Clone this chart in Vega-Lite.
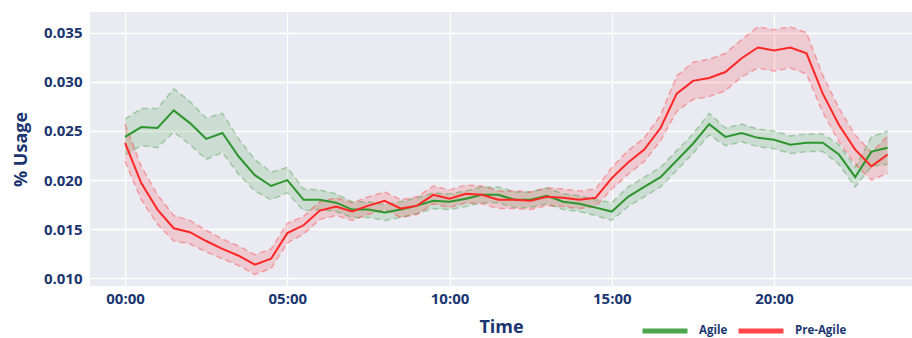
{
  "$schema": "https://vega.github.io/schema/vega-lite/v6.json",
  "width": 822,
  "height": 274,
  "autosize": {"type": "none"},
  "padding": {"left": 90, "top": 12, "right": 0, "bottom": 52},
  "background": "white",
  "config": {
    "font": "Open Sans",
    "view": {"fill": "#eaeaf2", "stroke": null},
    "axis": {"domain": false, "ticks": false, "gridColor": "white", "gridWidth": 1.3, "labelFont": "Open Sans", "labelFontWeight": "bold", "labelColor": "#1a3570", "labelFontSize": 15, "titleFont": "Open Sans", "titleColor": "#1a3570", "titleFontSize": 18, "titleFontWeight": "bold"},
    "axisX": {"labelPadding": 5, "titlePadding": 12},
    "axisY": {"labelPadding": 8, "titlePadding": 13},
    "legend": {"padding": 0}
  },
  "data": {"values": [
    {"s":"Agile","t":0,"m":0.0244,"lo":0.0226,"hi":0.0262},
    {"s":"Agile","t":0.5,"m":0.0254,"lo":0.0235,"hi":0.0273},
    {"s":"Agile","t":1,"m":0.0253,"lo":0.0233,"hi":0.0273},
    {"s":"Agile","t":1.5,"m":0.0271,"lo":0.0249,"hi":0.0293},
    {"s":"Agile","t":2,"m":0.0258,"lo":0.0236,"hi":0.0280},
    {"s":"Agile","t":2.5,"m":0.0242,"lo":0.0221,"hi":0.0263},
    {"s":"Agile","t":3,"m":0.0248,"lo":0.0228,"hi":0.0268},
    {"s":"Agile","t":3.5,"m":0.0224,"lo":0.0206,"hi":0.0242},
    {"s":"Agile","t":4,"m":0.0205,"lo":0.0189,"hi":0.0221},
    {"s":"Agile","t":4.5,"m":0.0194,"lo":0.0180,"hi":0.0208},
    {"s":"Agile","t":5,"m":0.0200,"lo":0.0187,"hi":0.0213},
    {"s":"Agile","t":5.5,"m":0.0180,"lo":0.0169,"hi":0.0191},
    {"s":"Agile","t":6,"m":0.0180,"lo":0.0170,"hi":0.0190},
    {"s":"Agile","t":6.5,"m":0.0177,"lo":0.0168,"hi":0.0186},
    {"s":"Agile","t":7,"m":0.0170,"lo":0.0162,"hi":0.0178},
    {"s":"Agile","t":7.5,"m":0.0170,"lo":0.0162,"hi":0.0178},
    {"s":"Agile","t":8,"m":0.0167,"lo":0.0159,"hi":0.0175},
    {"s":"Agile","t":8.5,"m":0.0170,"lo":0.0162,"hi":0.0178},
    {"s":"Agile","t":9,"m":0.0174,"lo":0.0166,"hi":0.0182},
    {"s":"Agile","t":9.5,"m":0.0179,"lo":0.0171,"hi":0.0187},
    {"s":"Agile","t":10,"m":0.0178,"lo":0.0170,"hi":0.0186},
    {"s":"Agile","t":10.5,"m":0.0181,"lo":0.0173,"hi":0.0189},
    {"s":"Agile","t":11,"m":0.0185,"lo":0.0177,"hi":0.0193},
    {"s":"Agile","t":11.5,"m":0.0185,"lo":0.0177,"hi":0.0193},
    {"s":"Agile","t":12,"m":0.0180,"lo":0.0172,"hi":0.0188},
    {"s":"Agile","t":12.5,"m":0.0180,"lo":0.0172,"hi":0.0188},
    {"s":"Agile","t":13,"m":0.0184,"lo":0.0176,"hi":0.0192},
    {"s":"Agile","t":13.5,"m":0.0178,"lo":0.0170,"hi":0.0186},
    {"s":"Agile","t":14,"m":0.0176,"lo":0.0168,"hi":0.0184},
    {"s":"Agile","t":14.5,"m":0.0172,"lo":0.0164,"hi":0.0180},
    {"s":"Agile","t":15,"m":0.0168,"lo":0.0159,"hi":0.0177},
    {"s":"Agile","t":15.5,"m":0.0183,"lo":0.0173,"hi":0.0193},
    {"s":"Agile","t":16,"m":0.0193,"lo":0.0183,"hi":0.0203},
    {"s":"Agile","t":16.5,"m":0.0203,"lo":0.0193,"hi":0.0213},
    {"s":"Agile","t":17,"m":0.0220,"lo":0.0210,"hi":0.0230},
    {"s":"Agile","t":17.5,"m":0.0237,"lo":0.0227,"hi":0.0247},
    {"s":"Agile","t":18,"m":0.0257,"lo":0.0246,"hi":0.0268},
    {"s":"Agile","t":18.5,"m":0.0244,"lo":0.0235,"hi":0.0253},
    {"s":"Agile","t":19,"m":0.0248,"lo":0.0239,"hi":0.0257},
    {"s":"Agile","t":19.5,"m":0.0243,"lo":0.0234,"hi":0.0252},
    {"s":"Agile","t":20,"m":0.0241,"lo":0.0232,"hi":0.0250},
    {"s":"Agile","t":20.5,"m":0.0236,"lo":0.0227,"hi":0.0245},
    {"s":"Agile","t":21,"m":0.0238,"lo":0.0229,"hi":0.0247},
    {"s":"Agile","t":21.5,"m":0.0238,"lo":0.0229,"hi":0.0247},
    {"s":"Agile","t":22,"m":0.0226,"lo":0.0216,"hi":0.0236},
    {"s":"Agile","t":22.5,"m":0.0203,"lo":0.0193,"hi":0.0213},
    {"s":"Agile","t":23,"m":0.0229,"lo":0.0214,"hi":0.0244},
    {"s":"Agile","t":23.5,"m":0.0233,"lo":0.0216,"hi":0.0250},
    {"s":"Pre-Agile","t":0,"m":0.0238,"lo":0.0219,"hi":0.0257},
    {"s":"Pre-Agile","t":0.5,"m":0.0197,"lo":0.0180,"hi":0.0214},
    {"s":"Pre-Agile","t":1,"m":0.0170,"lo":0.0155,"hi":0.0185},
    {"s":"Pre-Agile","t":1.5,"m":0.0151,"lo":0.0138,"hi":0.0164},
    {"s":"Pre-Agile","t":2,"m":0.0147,"lo":0.0135,"hi":0.0159},
    {"s":"Pre-Agile","t":2.5,"m":0.0138,"lo":0.0127,"hi":0.0149},
    {"s":"Pre-Agile","t":3,"m":0.0130,"lo":0.0120,"hi":0.0140},
    {"s":"Pre-Agile","t":3.5,"m":0.0123,"lo":0.0113,"hi":0.0133},
    {"s":"Pre-Agile","t":4,"m":0.0114,"lo":0.0104,"hi":0.0124},
    {"s":"Pre-Agile","t":4.5,"m":0.0120,"lo":0.0110,"hi":0.0130},
    {"s":"Pre-Agile","t":5,"m":0.0146,"lo":0.0136,"hi":0.0156},
    {"s":"Pre-Agile","t":5.5,"m":0.0154,"lo":0.0145,"hi":0.0163},
    {"s":"Pre-Agile","t":6,"m":0.0169,"lo":0.0160,"hi":0.0178},
    {"s":"Pre-Agile","t":6.5,"m":0.0173,"lo":0.0164,"hi":0.0182},
    {"s":"Pre-Agile","t":7,"m":0.0168,"lo":0.0159,"hi":0.0177},
    {"s":"Pre-Agile","t":7.5,"m":0.0174,"lo":0.0165,"hi":0.0183},
    {"s":"Pre-Agile","t":8,"m":0.0179,"lo":0.0170,"hi":0.0188},
    {"s":"Pre-Agile","t":8.5,"m":0.0171,"lo":0.0162,"hi":0.0180},
    {"s":"Pre-Agile","t":9,"m":0.0174,"lo":0.0165,"hi":0.0183},
    {"s":"Pre-Agile","t":9.5,"m":0.0185,"lo":0.0176,"hi":0.0194},
    {"s":"Pre-Agile","t":10,"m":0.0181,"lo":0.0172,"hi":0.0190},
    {"s":"Pre-Agile","t":10.5,"m":0.0186,"lo":0.0177,"hi":0.0195},
    {"s":"Pre-Agile","t":11,"m":0.0185,"lo":0.0176,"hi":0.0194},
    {"s":"Pre-Agile","t":11.5,"m":0.0180,"lo":0.0171,"hi":0.0189},
    {"s":"Pre-Agile","t":12,"m":0.0180,"lo":0.0171,"hi":0.0189},
    {"s":"Pre-Agile","t":12.5,"m":0.0179,"lo":0.0170,"hi":0.0188},
    {"s":"Pre-Agile","t":13,"m":0.0183,"lo":0.0174,"hi":0.0192},
    {"s":"Pre-Agile","t":13.5,"m":0.0182,"lo":0.0173,"hi":0.0191},
    {"s":"Pre-Agile","t":14,"m":0.0180,"lo":0.0171,"hi":0.0189},
    {"s":"Pre-Agile","t":14.5,"m":0.0182,"lo":0.0173,"hi":0.0191},
    {"s":"Pre-Agile","t":15,"m":0.0202,"lo":0.0191,"hi":0.0213},
    {"s":"Pre-Agile","t":15.5,"m":0.0218,"lo":0.0206,"hi":0.0230},
    {"s":"Pre-Agile","t":16,"m":0.0231,"lo":0.0219,"hi":0.0243},
    {"s":"Pre-Agile","t":16.5,"m":0.0253,"lo":0.0240,"hi":0.0266},
    {"s":"Pre-Agile","t":17,"m":0.0288,"lo":0.0270,"hi":0.0306},
    {"s":"Pre-Agile","t":17.5,"m":0.0301,"lo":0.0282,"hi":0.0320},
    {"s":"Pre-Agile","t":18,"m":0.0304,"lo":0.0285,"hi":0.0323},
    {"s":"Pre-Agile","t":18.5,"m":0.0310,"lo":0.0291,"hi":0.0329},
    {"s":"Pre-Agile","t":19,"m":0.0324,"lo":0.0305,"hi":0.0343},
    {"s":"Pre-Agile","t":19.5,"m":0.0335,"lo":0.0314,"hi":0.0356},
    {"s":"Pre-Agile","t":20,"m":0.0332,"lo":0.0311,"hi":0.0353},
    {"s":"Pre-Agile","t":20.5,"m":0.0335,"lo":0.0314,"hi":0.0356},
    {"s":"Pre-Agile","t":21,"m":0.0329,"lo":0.0308,"hi":0.0350},
    {"s":"Pre-Agile","t":21.5,"m":0.0288,"lo":0.0269,"hi":0.0307},
    {"s":"Pre-Agile","t":22,"m":0.0256,"lo":0.0239,"hi":0.0273},
    {"s":"Pre-Agile","t":22.5,"m":0.0231,"lo":0.0216,"hi":0.0246},
    {"s":"Pre-Agile","t":23,"m":0.0214,"lo":0.0200,"hi":0.0228},
    {"s":"Pre-Agile","t":23.5,"m":0.0226,"lo":0.0207,"hi":0.0245}
  ]},
  "encoding": {
    "x": {"field": "t", "type": "quantitative", "title": "Time",
      "scale": {"domain": [-1.08, 24.25], "nice": false, "zero": false},
      "axis": {"values": [0, 5, 10, 15, 20], "labelExpr": "(datum.value < 10 ? '0' : '') + datum.value + ':00'"}},
    "color": {"field": "s", "type": "nominal",
      "scale": {"domain": ["Agile", "Pre-Agile"], "range": ["#2e962e", "#ff2626"]},
      "legend": {"orient": "none", "legendX": 550, "legendY": 294, "direction": "horizontal", "gridAlign": "none", "title": null, "symbolType": "stroke", "symbolSize": 2025, "symbolStrokeWidth": 5, "symbolOpacity": 0.85, "labelFontSize": 11.5, "labelFont": "Open Sans", "labelFontWeight": "bold", "labelColor": "#1a3570", "labelOffset": 9, "columnPadding": 0}}
  },
  "layer": [
    {"mark": {"type": "area", "opacity": 0.16},
     "encoding": {
       "y": {"field": "lo", "type": "quantitative", "title": "% Usage", "scale": {"domain": [0.00922, 0.03711], "nice": false, "zero": false}, "axis": {"values": [0.01, 0.015, 0.02, 0.025, 0.03, 0.035], "format": ".3f"}},
       "y2": {"field": "hi"}}},
    {"mark": {"type": "line", "strokeDash": [6, 4], "strokeWidth": 1.5, "opacity": 0.35},
     "encoding": {
       "y": {"field": "lo", "type": "quantitative", "title": "% Usage"}}},
    {"mark": {"type": "line", "strokeDash": [6, 4], "strokeWidth": 1.5, "opacity": 0.35},
     "encoding": {
       "y": {"field": "hi", "type": "quantitative", "title": "% Usage"}}},
    {"mark": {"type": "line", "strokeWidth": 2},
     "encoding": {
       "y": {"field": "m", "type": "quantitative", "title": "% Usage"}}}
  ]
}
